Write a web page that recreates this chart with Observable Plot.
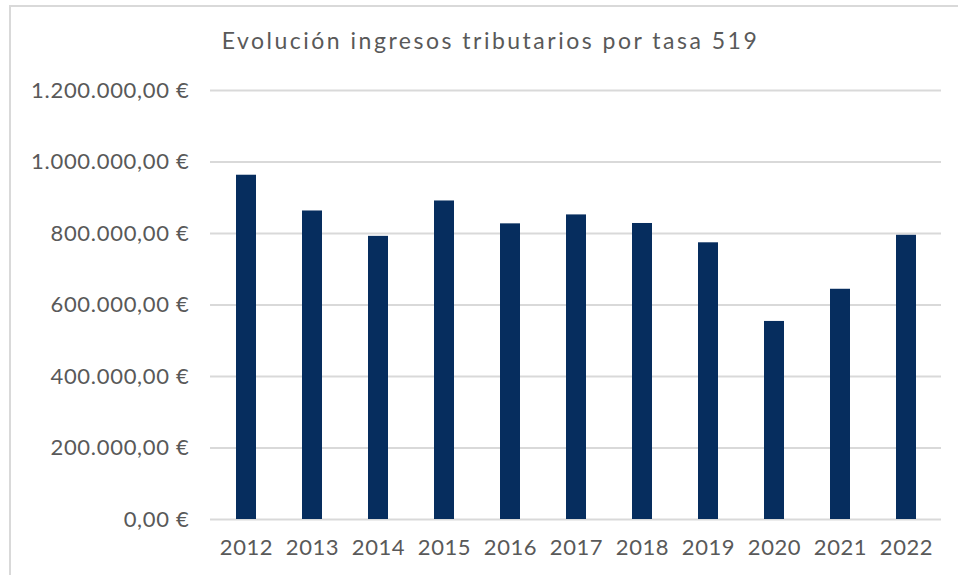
<!DOCTYPE html>
<html>
<head>
<meta charset="utf-8">
<script src="https://cdn.jsdelivr.net/npm/d3@7"></script>
<script src="https://cdn.jsdelivr.net/npm/@observablehq/plot@0.6"></script>
<style>
  html, body { margin: 0; padding: 0; background: #fff; }
  #wrap { position: relative; width: 958px; height: 575px; overflow: hidden; font-family: Lato, "Noto Sans", sans-serif; }
  #frame { position: absolute; left: 9px; top: 5px; width: 960px; height: 600px; border-left: 2px solid #d9d9d9; border-top: 2px solid #d9d9d9; box-sizing: border-box; }
  #title { position: absolute; top: 29px; left: 0px; width: 981px; text-align: center; font-size: 23px; line-height: 23px; letter-spacing: 2.5px; color: #595959; white-space: nowrap; }
  #chart { position: absolute; left: 0; top: 0; }
  #chart g[aria-label="y-axis tick label"] text { letter-spacing: 0.7px; }
  #chart g[aria-label="x-axis tick label"] text { letter-spacing: 0.6px; }
</style>
</head>
<body>
<div id="wrap">
  <div id="frame"></div>
  <div id="title">Evolución ingresos tributarios por tasa 519</div>
  <div id="chart"></div>
</div>
<script>
const years = ["2012","2013","2014","2015","2016","2017","2018","2019","2020","2021","2022"];
const values = [963000, 863000, 792000, 891000, 827000, 852000, 828000, 774000, 554000, 644000, 795000];
const yTicks = [0, 200000, 400000, 600000, 800000, 1000000, 1200000];

const data = years.map((y, i) => ({year: y, value: values[i]}));
const loc = d3.formatLocale({decimal: ",", thousands: ".", grouping: [3], currency: ["", " €"]});
const fmt = loc.format("$,.2f");

const plot = Plot.plot({
  width: 958,
  height: 575,
  marginLeft: 210,
  marginRight: 17,
  marginTop: 90,
  marginBottom: 56,
  style: {fontFamily: "Lato, 'Noto Sans', sans-serif", fontSize: "22px", color: "#595959", background: "transparent"},
  x: {domain: years, paddingInner: 0.7, paddingOuter: 0.35, label: null, tickSize: 0, tickPadding: 20},
  y: {domain: [0, 1200000], ticks: yTicks, label: null, tickSize: 0, tickPadding: 21, tickFormat: fmt},
  marks: [
    Plot.gridY(yTicks, {stroke: "#d9d9d9", strokeOpacity: 1, strokeWidth: 1.8}),
    Plot.barY(data, {x: "year", y: "value", fill: "#062d5e"})
  ]
});
document.getElementById("chart").appendChild(plot);
</script>
</body>
</html>
